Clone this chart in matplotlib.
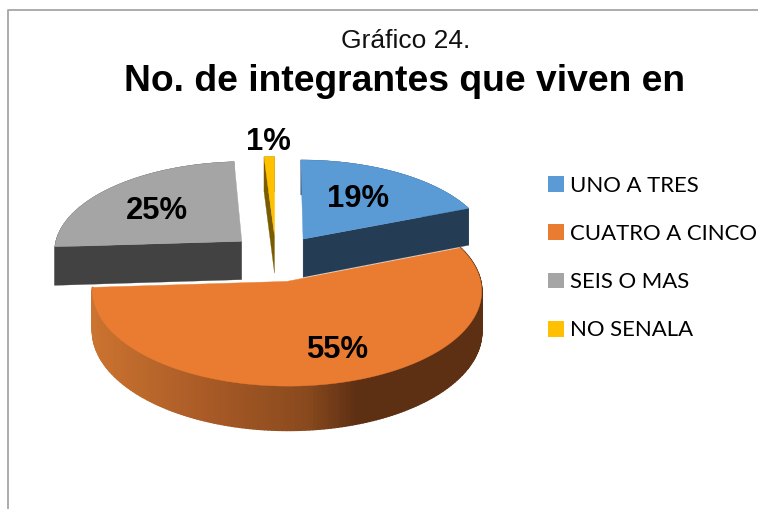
import numpy as np
import matplotlib
matplotlib.use("Agg")
import matplotlib.pyplot as plt
from matplotlib.collections import PolyCollection
from matplotlib.colors import LinearSegmentedColormap
from matplotlib.patches import Patch, Polygon

categories = ["UNO A TRES", "CUATRO A CINCO", "SEIS O MAS", "NO SENALA"]
values = [19, 55, 25, 1]
title_top = "Gráfico 24."
title_main = "No. de integrantes que viven en"

top_colors = ["#5B9BD5", "#EA7C32", "#A5A5A5", "#FFC000"]
side_colors = ["#243D55", "#5E3013", "#424242", "#7A5C00"]

# projection of the tilted disc onto the canvas, in pixels
cx, cy = 276, 258
rx, ry = 189, 90
persp = 0.095
depth = 39
explode = 0.26
label_r = [0.63, 0.67, 0.63, 1.24]
label_dx = [-6, 19, 0, 0]
label_dy = [3, 3, 3, 2]
# which cut faces can be seen, per slice (0 = start of the arc, -1 = end of it)
cut_faces = [[-1], [], [0], [0]]
nudge = [(0, 0), (0, 0), (2, -1.5), (0, 0)]

orange_side = LinearSegmentedColormap.from_list(
    "orange_side", [(0, "#CB7330"), (0.3, "#A85A26"), (0.55, "#8A4A1E"), (0.68, "#5E3013"), (1, "#5E3013")])


def project(x, y, z=0.0):
    w = 1 + persp * y
    return cx + rx * x / w, cy - ry * y / w + depth * z / w


fig = plt.figure(figsize=(7.58, 5.09), dpi=100)
ax = fig.add_axes([0, 0, 1, 1])
ax.set_xlim(0, 758)
ax.set_ylim(509, 0)
ax.axis("off")

# chart frame
ax.plot([7.5, 7.5, 758], [509, 9.5, 9.5], color="#A6A6A6", lw=1.3)

edges = np.cumsum([0] + values) / sum(values) * 2 * np.pi
slices = []
for i in range(len(values)):
    a0, a1 = edges[i], edges[i + 1]
    mid = (a0 + a1) / 2
    off_x, off_y = explode * np.sin(mid), explode * np.cos(mid)
    ang = np.linspace(a0, a1, max(int(np.degrees(a1 - a0)), 2) + 1)
    slices.append((i, ang, off_x, off_y, mid))

# front slice first, the pulled out ones sit over it
for i, ang, off_x, off_y, mid in [slices[1], slices[0], slices[2], slices[3]]:
    arc_x = off_x + np.sin(ang)
    arc_y = off_y + np.cos(ang)
    top = np.column_stack(project(arc_x, arc_y)) + nudge[i]
    bottom = np.column_stack(project(arc_x, arc_y, 1.0)) + nudge[i]
    apex = np.array(project(off_x, off_y)) + nudge[i]
    apex_low = np.array(project(off_x, off_y, 1.0)) + nudge[i]

    # rim, split in strips so the big slice can have its gradient
    strips = [[top[j], top[j + 1], bottom[j + 1], bottom[j]] for j in range(len(ang) - 1)]
    if i == 1:
        xs = top[:-1, 0]
        shade = orange_side((xs - xs.min()) / (xs.max() - xs.min()))
        rim_lw = 1.2
    else:
        shade = [side_colors[i]] * len(strips)
        rim_lw = 0.2
    ax.add_collection(PolyCollection(strips, facecolors=shade, edgecolors=shade, linewidths=rim_lw))

    for end in cut_faces[i]:
        face = [apex, top[end], bottom[end], apex_low]
        ax.add_patch(Polygon(face, closed=True, fc=side_colors[i], ec=side_colors[i], lw=0.2))

    ax.add_patch(Polygon(np.vstack([apex, top]), closed=True, fc=top_colors[i], ec=top_colors[i], lw=0.3))

# percent labels
for i, ang, off_x, off_y, mid in slices:
    lx, ly = project(off_x + label_r[i] * np.sin(mid), off_y + label_r[i] * np.cos(mid))
    ax.text(lx + label_dx[i], ly + label_dy[i], f"{values[i]}%", ha="center", va="center", fontsize=22.3,
            fontweight="bold", family="Liberation Sans", color="black")

ax.text(405.5, 41, title_top, ha="center", va="center", fontsize=19, family="Liberation Sans", color="#111111")
ax.text(405, 81, title_main, ha="center", va="center", fontsize=26.8, fontweight="bold",
        family="Liberation Sans", color="black")

handles = [Patch(facecolor=c, edgecolor="none", label=n) for c, n in zip(top_colors, categories)]
ax.legend(handles=handles, loc="upper left", bbox_to_anchor=(541, 169), bbox_transform=ax.transData,
          frameon=False, prop={"family": "Lato", "size": 15.9}, handlelength=0.72, handleheight=0.72,
          handletextpad=0.29, labelspacing=1.28, borderpad=0.3, borderaxespad=0)

fig.savefig("out.png", dpi=100)
